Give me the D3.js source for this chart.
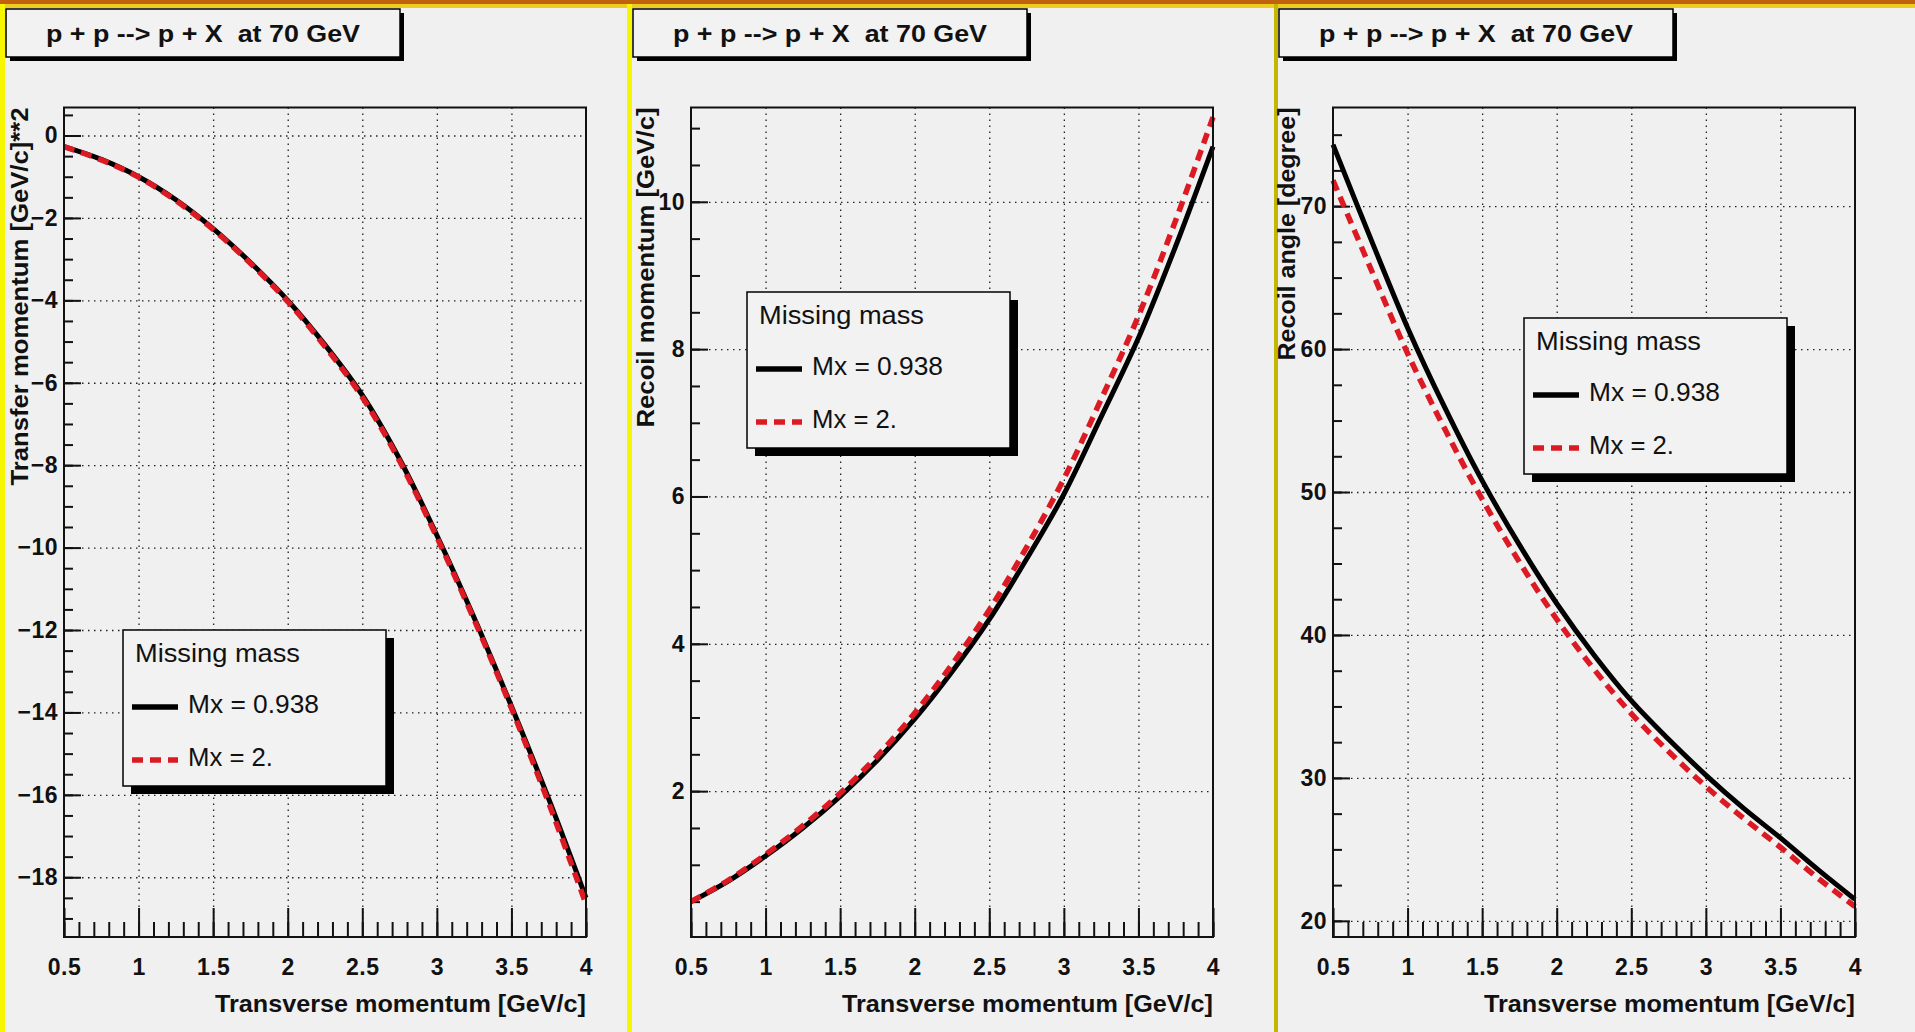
<!DOCTYPE html>
<html>
<head>
<meta charset="utf-8">
<script src="https://cdn.jsdelivr.net/npm/d3@7"></script>
<style>
  body { margin: 0; background: #f0f0f0; }
  svg { display: block; }
  text { font-family: "Liberation Sans", Arial, Helvetica, sans-serif; fill: #111; }
</style>
</head>
<body>
<div id="chart"></div>
<script>
// transverse momentum samples [GeV/c]
const pT = [0.5, 0.75, 1.0, 1.25, 1.5, 1.75, 2.0, 2.25, 2.5, 2.75, 3.0, 3.25, 3.5, 3.75, 4.0];

// transfer momentum t [(GeV/c)^2]
const transferMx0938 = [-0.27, -0.58, -1.0, -1.56, -2.26, -3.08, -4.0, -5.08, -6.3, -7.85, -9.7, -11.7, -13.85, -16.1, -18.5];
const transferMx2    = [-0.27, -0.59, -1.01, -1.58, -2.28, -3.1, -4.03, -5.12, -6.35, -7.9, -9.75, -11.75, -13.9, -16.2, -18.65];

// recoil momentum [GeV/c]
const recoilMomMx0938 = [0.5, 0.78, 1.12, 1.5, 1.93, 2.42, 2.98, 3.62, 4.33, 5.15, 6.03, 7.08, 8.15, 9.4, 10.75];
const recoilMomMx2    = [0.5, 0.79, 1.14, 1.53, 1.97, 2.48, 3.06, 3.72, 4.46, 5.31, 6.24, 7.32, 8.45, 9.75, 11.15];

// recoil angle [degree]
const recoilAngMx0938 = [74.3, 67.8, 61.5, 55.9, 50.8, 46.3, 42.2, 38.6, 35.4, 32.7, 30.2, 27.9, 25.8, 23.6, 21.5];
const recoilAngMx2    = [71.8, 65.7, 59.7, 54.4, 49.5, 45.1, 41.1, 37.6, 34.5, 31.85, 29.4, 27.2, 25.15, 23.0, 21.0];

const seriesNames = ["Mx = 0.938", "Mx = 2."];
const titleText = "p + p --> p + X  at 70 GeV";
const xTitle = "Transverse momentum [GeV/c]";
const xTicks = [0.5, 1, 1.5, 2, 2.5, 3, 3.5, 4];

const W = 1915, H = 1032;
const frameTop = 107.5, frameH = 829.5, frameW = 522;
const red = "#dc1a24";

const panels = [
  { panelX: 5, left: 64, yDomain: [-19.45, 0.68], yTicks: d3.range(-18, 1, 2), yMinor: 0.5,
    yTitle: "Transfer momentum [GeV/c]**2", yTitleX: 28, yTitleLen: 378,
    data: [transferMx0938, transferMx2], legend: [123, 630] },
  { panelX: 632, left: 691, yDomain: [0.02, 11.28], yTicks: d3.range(2, 11, 2), yMinor: 0.5,
    yTitle: "Recoil momentum [GeV/c]", yTitleX: 654, yTitleLen: 320,
    data: [recoilMomMx0938, recoilMomMx2], legend: [747, 292] },
  { panelX: 1278, left: 1333, yDomain: [18.87, 76.9], yTicks: d3.range(20, 71, 10), yMinor: 2.5,
    yTitle: "Recoil angle [degree]", yTitleX: 1295, yTitleLen: 253,
    data: [recoilAngMx0938, recoilAngMx2], legend: [1524, 318] }
];

const svg = d3.select("#chart").append("svg")
  .attr("width", W).attr("height", H);

svg.append("rect").attr("width", W).attr("height", H).attr("fill", "#f0f0f0");

// window borders
svg.append("rect").attr("x", 0).attr("y", 0).attr("width", W).attr("height", 4).attr("fill", "#c0620e");
svg.append("rect").attr("x", 0).attr("y", 4).attr("width", W).attr("height", 4).attr("fill", "#eecc22");
svg.append("rect").attr("x", 0).attr("y", 4).attr("width", 5).attr("height", H).attr("fill", "#f6f600");
svg.append("rect").attr("x", 627).attr("y", 4).attr("width", 5).attr("height", H).attr("fill", "#f6f600");
svg.append("rect").attr("x", 1274).attr("y", 4).attr("width", 4).attr("height", H).attr("fill", "#c2b800");

panels.forEach(p => {
  const x = d3.scaleLinear().domain([0.5, 4]).range([0, frameW]);
  const y = d3.scaleLinear().domain(p.yDomain).range([frameH, 0]);

  // title box
  const tb = svg.append("g").attr("transform", `translate(${p.panelX + 1},9)`);
  tb.append("rect").attr("x", 4).attr("y", 4).attr("width", 394).attr("height", 48).attr("fill", "#000");
  tb.append("rect").attr("x", 0).attr("y", 0).attr("width", 394).attr("height", 48)
    .attr("fill", "#f2f2f2").attr("stroke", "#000").attr("stroke-width", 1.5);
  tb.append("text").attr("x", 197).attr("y", 33).attr("text-anchor", "middle")
    .style("white-space", "pre")
    .attr("font-size", 24).attr("font-weight", "bold")
    .attr("textLength", 314).attr("lengthAdjust", "spacingAndGlyphs")
    .text(titleText);

  const g = svg.append("g").attr("transform", `translate(${p.left},${frameTop})`);

  // grid
  g.append("g").attr("class", "grid")
    .call(d3.axisBottom(x).tickValues(xTicks.slice(1, -1)).tickSize(-frameH).tickFormat(""))
    .attr("transform", `translate(0,${frameH})`);
  g.append("g").attr("class", "grid")
    .call(d3.axisLeft(y).tickValues(p.yTicks).tickSize(-frameW).tickFormat(""));
  g.selectAll(".grid .domain").remove();
  g.selectAll(".grid line").attr("stroke", "#222").attr("stroke-width", 1.3)
    .attr("stroke-dasharray", "1.5,4.5");

  // minor ticks
  const xMinor = d3.range(0.5, 4.001, 0.1).map(v => +v.toFixed(2));
  g.append("g").attr("class", "tk").attr("transform", `translate(0,${frameH})`)
    .call(d3.axisBottom(x).tickValues(xMinor).tickSize(-15).tickFormat(""));
  const yLo = Math.ceil(p.yDomain[0] / p.yMinor) * p.yMinor;
  const yMinor = d3.range(yLo, p.yDomain[1], p.yMinor);
  g.append("g").attr("class", "tk")
    .call(d3.axisLeft(y).tickValues(yMinor).tickSize(-9).tickFormat(""));

  // major ticks and labels
  g.append("g").attr("class", "tk lab").attr("transform", `translate(0,${frameH})`)
    .call(d3.axisBottom(x).tickValues(xTicks).tickSize(-29).tickPadding(22).tickFormat(d3.format("")));
  g.append("g").attr("class", "tk lab")
    .call(d3.axisLeft(y).tickValues(p.yTicks).tickSize(-17).tickPadding(6).tickFormat(d3.format("")));
  g.selectAll(".tk .domain").remove();
  g.selectAll(".tk line").attr("stroke", "#111").attr("stroke-width", 2);
  g.selectAll(".lab text").attr("font-size", 23).attr("font-weight", "bold")
    .attr("letter-spacing", 0.5).attr("fill", "#111")
    .attr("font-family", "'Liberation Sans', Arial, sans-serif");

  // curves
  const line = d3.line().x((d, i) => x(pT[i])).y(d => y(d)).curve(d3.curveCatmullRom);
  g.append("path").datum(p.data[0]).attr("d", line)
    .attr("fill", "none").attr("stroke", "#000").attr("stroke-width", 5);
  g.append("path").datum(p.data[1]).attr("d", line)
    .attr("fill", "none").attr("stroke", red).attr("stroke-width", 5.5)
    .attr("stroke-dasharray", "11,7");

  // frame
  g.append("rect").attr("width", frameW).attr("height", frameH)
    .attr("fill", "none").attr("stroke", "#111").attr("stroke-width", 2);

  // axis titles
  svg.append("text").attr("x", p.left + frameW).attr("y", 1012).attr("text-anchor", "end")
    .attr("font-size", 24).attr("font-weight", "bold")
    .attr("textLength", 371).attr("lengthAdjust", "spacingAndGlyphs").text(xTitle);
  svg.append("text").attr("transform", `translate(${p.yTitleX},${frameTop}) rotate(-90)`)
    .attr("text-anchor", "end").attr("font-size", 23).attr("font-weight", "bold")
    .attr("textLength", p.yTitleLen).attr("lengthAdjust", "spacingAndGlyphs").text(p.yTitle);

  // legend
  const lg = svg.append("g").attr("transform", `translate(${p.legend[0]},${p.legend[1]})`);
  lg.append("rect").attr("x", 8).attr("y", 8).attr("width", 263).attr("height", 156).attr("fill", "#000");
  lg.append("rect").attr("width", 263).attr("height", 156)
    .attr("fill", "#f2f2f2").attr("stroke", "#000").attr("stroke-width", 1.5);
  lg.append("text").attr("x", 12).attr("y", 32).attr("font-size", 25)
    .attr("textLength", 165).attr("lengthAdjust", "spacingAndGlyphs").text("Missing mass");
  const rows = [
    { name: seriesNames[0], color: "#000", dash: null, len: 131 },
    { name: seriesNames[1], color: red, dash: "11,7", len: 85 }
  ];
  rows.forEach((r, i) => {
    const yy = 77 + i * 53;
    lg.append("line").attr("x1", 9).attr("x2", 55).attr("y1", yy).attr("y2", yy)
      .attr("stroke", r.color).attr("stroke-width", 5.5).attr("stroke-dasharray", r.dash);
    lg.append("text").attr("x", 65).attr("y", yy + 6).attr("font-size", 25)
      .attr("textLength", r.len).attr("lengthAdjust", "spacingAndGlyphs").text(r.name);
  });
});
</script>
</body>
</html>
